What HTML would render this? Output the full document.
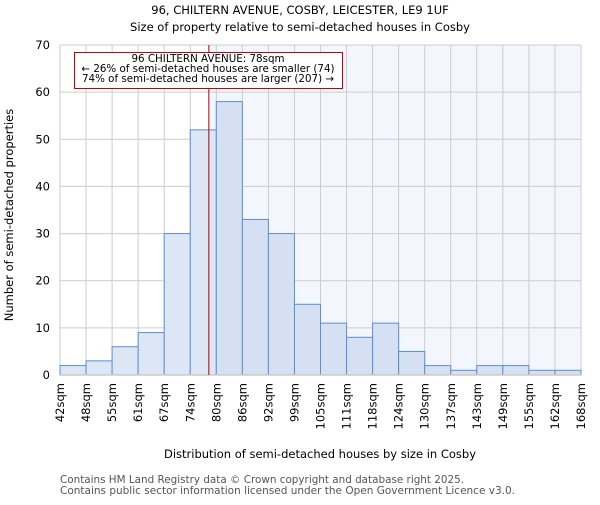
<!DOCTYPE html>
<html><head><meta charset="utf-8"><style>
body{margin:0;background:#fff}
svg text{font-family:"DejaVu Sans","Liberation Sans",sans-serif}
</style></head><body>
<svg id="chart" width="600" height="500" xmlns="http://www.w3.org/2000/svg">
<text x="300" y="14" font-size="11.5" text-anchor="middle">96, CHILTERN AVENUE, COSBY, LEICESTER, LE9 1UF</text>
<text x="300" y="31" font-size="11.5" text-anchor="middle">Size of property relative to semi-detached houses in Cosby</text>
<g id="plot"></g>
<text transform="translate(13,215) rotate(-90)" font-size="11.5" text-anchor="middle">Number of semi-detached properties</text>
<text x="320" y="458" font-size="11.5" text-anchor="middle">Distribution of semi-detached houses by size in Cosby</text>
<text x="60" y="483" font-size="10.5" fill="#555" textLength="404" lengthAdjust="spacingAndGlyphs">Contains HM Land Registry data © Crown copyright and database right 2025.</text>
<text x="60" y="494" font-size="10.5" fill="#555" textLength="455" lengthAdjust="spacingAndGlyphs">Contains public sector information licensed under the Open Government Licence v3.0.</text>
</svg>
<script>
const binLabels=["42sqm","48sqm","55sqm","61sqm","67sqm","74sqm","80sqm","86sqm","92sqm","99sqm","105sqm","111sqm","118sqm","124sqm","130sqm","137sqm","143sqm","149sqm","155sqm","162sqm","168sqm"];
const counts=[2,3,6,9,30,52,58,33,30,15,11,8,11,5,2,1,2,2,1,1];
const yTicks=[0,10,20,30,40,50,60,70];
const binStart=42, binEnd=168, markerValue=78;
const ns="http://www.w3.org/2000/svg";
const L=60,R=581,T=45,B=375,yMax=70;
const g=document.getElementById('plot');
const n=counts.length;
const xi=i=>L+i*(R-L)/n;
const xv=v=>L+(v-binStart)/(binEnd-binStart)*(R-L);
const y=v=>B-v/yMax*(B-T);
function el(t,a){const e=document.createElementNS(ns,t);for(const k in a)e.setAttribute(k,a[k]);g.appendChild(e);return e;}
const mx=xv(markerValue);
let e=el('rect',{x:mx,y:T,width:R-mx,height:B-T,fill:'#f3f6fd'});


yTicks.forEach(t=>{
 let l=el('line',{x1:L,x2:R,y1:y(t),y2:y(t),stroke:'#ccc','stroke-width':1});
 
 
 let tx=el('text',{x:L-10,y:y(t)+4,'font-size':11.5,'text-anchor':'end'});tx.textContent=t;
 
 
});
binLabels.forEach((lb,i)=>{
 let l=el('line',{x1:xi(i),x2:xi(i),y1:T,y2:B,stroke:'#ccc','stroke-width':1});
 
 
 let tx=el('text',{transform:`translate(${xi(i)+4},${B+8}) rotate(-90)`,'font-size':11.5,'text-anchor':'end'});tx.textContent=lb;
 
 
});
counts.forEach((c,i)=>{
 const left=xi(i)<mx;
 let r=el('rect',{x:xi(i),y:y(c),width:(R-L)/n,height:B-y(c),fill:left?'#dde6f4':'#d5e1f3',stroke:'#5b8fd6','stroke-width':1});
 
 
});
let ax=el('line',{x1:L,x2:R,y1:B,y2:B,stroke:'#ccc','stroke-width':1.5});


let ml=el('line',{x1:mx,x2:mx,y1:T,y2:B,stroke:'#b00000','stroke-width':1});


let box=el('rect',{x:74.5,y:52.5,width:268,height:36,fill:'#fff',stroke:'#c00','stroke-width':1});


["96 CHILTERN AVENUE: 78sqm","← 26% of semi-detached houses are smaller (74)","74% of semi-detached houses are larger (207) →"].forEach((s,k)=>{
 let t=el('text',{x:208,y:62+k*10,'font-size':10.3,'text-anchor':'middle'});t.textContent=s;
 
 
});
</script>
</body></html>
